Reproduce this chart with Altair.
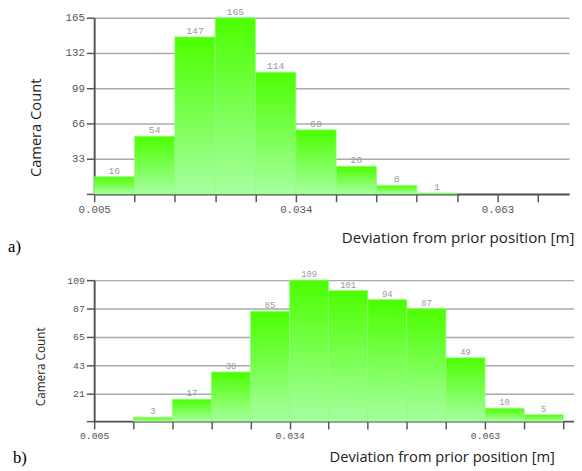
import altair as alt
import pandas as pd

# ---- data ----
bin_edges = [0.005, 0.0108, 0.0166, 0.0224, 0.0282, 0.034, 0.0398,
             0.0456, 0.0514, 0.0572, 0.063, 0.0688, 0.0746]
counts_a = [16, 54, 147, 165, 114, 60, 26, 8, 1]
counts_b = [0, 3, 17, 38, 85, 109, 101, 94, 87, 49, 10, 5]
y_ticks_a = [33, 66, 99, 132, 165]
y_ticks_b = [21, 43, 65, 87, 109]
x_labels = [0.005, 0.034, 0.063]
x_title = "Deviation from prior position [m]"
y_title = "Camera Count"
tags = ["a)", "b)"]

MONO = "Liberation Mono"
SANS = "Open Sans"

grad = alt.Gradient(
    gradient="linear",
    stops=[alt.GradientStop(color="#4cff00", offset=0),
           alt.GradientStop(color="#a6ffa0", offset=1)],
    x1=0, x2=0, y1=0, y2=1,
)

label_expr = " || ".join(f"abs(datum.value-{v})<1e-6" for v in x_labels)
label_expr = f"({label_expr}) ? format(datum.value, '.3f') : ''"


def panel(counts, W, H, ymax, yticks, xmax, n_ticks, tag, tag_x, tag_y,
          tick_fs, bar_fs, xt_fs, xt_x, xt_y, yt_fs, yt_x, yt_y):
    df = pd.DataFrame({
        "start": bin_edges[:len(counts)],
        "end": bin_edges[1:len(counts) + 1],
        "count": counts,
    })
    df = df[df["count"] > 0]
    base = alt.Chart(df)
    xs = alt.Scale(domain=[0.005, xmax], nice=False, zero=False)
    ys = alt.Scale(domain=[0, ymax], nice=False)
    xaxis = alt.Axis(
        values=bin_edges[:n_ticks], labelExpr=label_expr, grid=False,
        title=x_title, titleX=xt_x, titleY=xt_y, titleAlign="right",
        titleBaseline="alphabetic", titleFontSize=xt_fs,
        labelFontSize=tick_fs, labelFlush=False, labelOverlap=False)
    yaxis = alt.Axis(
        values=[0] + yticks, labelExpr="datum.value == 0 ? '' : datum.label",
        grid=True, title=y_title, titleX=yt_x, titleY=yt_y,
        titleAngle=-90, titleAlign="center", titleBaseline="middle",
        titleFontSize=yt_fs, labelFontSize=tick_fs, labelOverlap=False,
        labelFlush=False)
    bars = base.mark_bar(color=grad, stroke="#8dff7a", strokeWidth=0.7).encode(
        x=alt.X("start:Q", scale=xs, axis=xaxis),
        x2="end:Q",
        y=alt.Y("count:Q", scale=ys, axis=yaxis),
        y2=alt.datum(0),
    )
    labels = base.mark_text(dy=-3, baseline="alphabetic", font=MONO,
                            fontSize=bar_fs, color="#9a9a9a").encode(
        x=alt.X("mid:Q", scale=xs, axis=xaxis),
        y=alt.Y("count:Q", scale=ys, axis=yaxis),
        text="count:Q",
    ).transform_calculate(mid="(datum.start + datum.end) / 2")
    tag_mark = alt.Chart(pd.DataFrame({"t": [tag]})).mark_text(
        align="left", baseline="alphabetic", font="Liberation Serif",
        fontSize=17, color="#000000").encode(
        x=alt.value(tag_x), y=alt.value(tag_y), text="t:N")
    return alt.layer(bars, labels, tag_mark).properties(width=W, height=H)


pa = panel(counts_a, 485, 180, 165, y_ticks_a, 0.0733, 12, tags[0], -88, 239,
           11, 10, 15.5, 490, 50, 15, -60, 112)
pb = panel(counts_b, 490, 144, 109, y_ticks_b, 0.0762, 13, tags[1], -83, 187,
           10, 9, 15, 470, 41, 12, -55, 88)

chart = alt.vconcat(pa, pb, spacing=16).properties(
    padding={"left": 0, "top": -6, "right": 0, "bottom": 0}
).configure_view(
    stroke=None
).configure_axis(
    domainColor="#555555", domainWidth=2, tickColor="#555555", tickWidth=1.5,
    tickSize=8, labelFont=MONO, labelColor="#555555", labelPadding=2,
    gridColor="#aaaaaa", gridWidth=1.5, titleFont=SANS, titleColor="#222222",
    titleFontWeight="normal",
)

chart.save("out.html", embed_options={"renderer": "svg", "actions": False})
